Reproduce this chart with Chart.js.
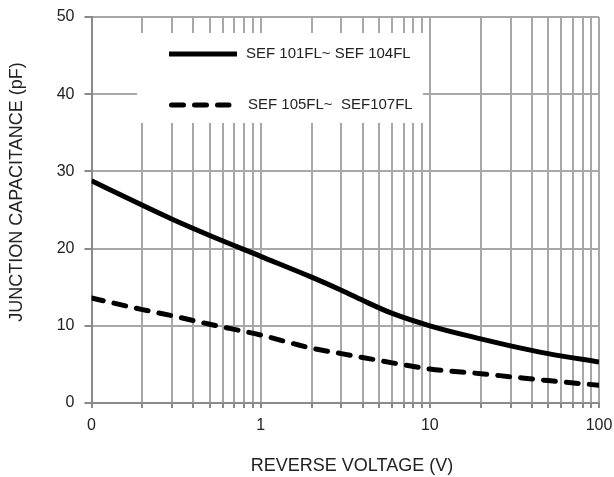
<!DOCTYPE html>
<html>
<head>
<meta charset="utf-8">
<script src="https://cdn.jsdelivr.net/npm/chart.js@4.4.1/dist/chart.umd.min.js"></script>
<style>
  html, body { margin: 0; padding: 0; background: #ffffff; }
  #wrap { width: 614px; height: 477px; }
</style>
</head>
<body>
<div id="wrap"><canvas id="c" width="614" height="477"></canvas></div>
<script>
// ---- data ----
const voltage = [0.1, 0.2, 0.3, 0.5, 1, 2, 3, 4, 6, 10, 20, 30, 50, 100];
const capSEF101_104 = [28.8, 25.6, 23.8, 21.7, 19.0, 16.3, 14.6, 13.3, 11.6, 10.0, 8.3, 7.4, 6.4, 5.3];
const capSEF105_107 = [13.6, 12.1, 11.3, 10.2, 8.8, 7.1, 6.4, 5.9, 5.2, 4.4, 3.8, 3.4, 2.9, 2.3];
const seriesNames = ["SEF 101FL~ SEF 104FL", "SEF 105FL~  SEF107FL"];
const xTickValues = [0.1,0.2,0.3,0.4,0.5,0.6,0.7,0.8,0.9,1,2,3,4,5,6,7,8,9,10,20,30,40,50,60,70,80,90,100];
const xTickLabels = {0.1: "0", 1: "1", 10: "10", 100: "100"};
const yTickValues = [0, 10, 20, 30, 40, 50];
const xTitle = "REVERSE VOLTAGE (V)";
const yTitle = "JUNCTION CAPACITANCE (pF)";

const FONT = "'Liberation Sans', Arial, sans-serif";
const GRID = "#a8a8a8";
const AXIS = "#8a8a8a";

const legendBox = {
  id: 'legendBox',
  beforeDatasetsDraw(chart) {
    const ctx = chart.ctx;
    ctx.save();
    ctx.fillStyle = '#ffffff';
    ctx.fillRect(137, 33, 286, 90);
    ctx.restore();
  },
  afterDatasetsDraw(chart) {
    const ctx = chart.ctx;
    const items = [
      {ds: chart.data.datasets[0], x1: 169, x2: 237, y: 54, tx: 246},
      {ds: chart.data.datasets[1], x1: 171.5, x2: 229, y: 105, tx: 248}
    ];
    ctx.save();
    items.forEach(it => {
      ctx.strokeStyle = it.ds.borderColor;
      ctx.lineWidth = it.ds.borderWidth;
      ctx.lineCap = it.ds.borderCapStyle || 'butt';
      ctx.setLineDash(it.ds.borderDash || []);
      ctx.beginPath();
      ctx.moveTo(it.x1, it.y);
      ctx.lineTo(it.x2, it.y);
      ctx.stroke();
      ctx.setLineDash([]);
      ctx.fillStyle = '#222';
      ctx.font = "15px " + FONT;
      ctx.textBaseline = 'middle';
      ctx.textAlign = 'left';
      ctx.fillText(it.ds.label, it.tx, it.y);
    });
    ctx.restore();
  }
};

const axisTitles = {
  id: 'axisTitles',
  afterDraw(chart) {
    const ctx = chart.ctx;
    ctx.save();
    ctx.fillStyle = '#222';
    ctx.font = "18px " + FONT;
    ctx.textAlign = 'center';
    ctx.textBaseline = 'middle';
    ctx.fillText(xTitle, 352, 466);
    ctx.translate(17, 192);
    ctx.rotate(-Math.PI / 2);
    ctx.fillText(yTitle, 0, 0);
    ctx.restore();
  }
};

new Chart(document.getElementById('c'), {
  type: 'line',
  data: {
    datasets: [
      {
        label: seriesNames[0],
        data: voltage.map((v, i) => ({x: v, y: capSEF101_104[i]})),
        borderColor: '#000000',
        borderWidth: 5,
        borderCapStyle: 'butt',
        pointRadius: 0,
        cubicInterpolationMode: 'monotone',
        fill: false
      },
      {
        label: seriesNames[1],
        data: voltage.map((v, i) => ({x: v, y: capSEF105_107[i]})),
        borderColor: '#000000',
        borderWidth: 5,
        borderDash: [12, 11],
        borderCapStyle: 'round',
        pointRadius: 0,
        cubicInterpolationMode: 'monotone',
        fill: false
      }
    ]
  },
  options: {
    responsive: false,
    animation: false,
    devicePixelRatio: 1,
    layout: { padding: { left: 0, top: 17, right: 15, bottom: 0 } },
    plugins: {
      legend: { display: false },
      tooltip: { enabled: false },
      title: { display: false }
    },
    scales: {
      x: {
        type: 'logarithmic',
        min: 0.1,
        max: 100,
        afterBuildTicks(scale) {
          scale.ticks = xTickValues.map(v => ({value: v}));
        },
        afterFit(scale) {
          scale.height = 74;
          scale.paddingLeft = 0;
          scale.paddingRight = 0;
        },
        ticks: {
          autoSkip: false,
          maxRotation: 0,
          padding: 8,
          color: '#222',
          font: { family: FONT, size: 16 },
          callback: (v) => (xTickLabels[v] !== undefined ? xTickLabels[v] : '')
        },
        grid: { color: GRID, lineWidth: 2, tickLength: 5, tickColor: AXIS },
        border: { color: AXIS, width: 2 }
      },
      y: {
        min: 0,
        max: 50,
        afterBuildTicks(scale) {
          scale.ticks = yTickValues.map(v => ({value: v}));
        },
        afterFit(scale) {
          scale.width = 91.5;
          scale.paddingTop = 0;
          scale.paddingBottom = 0;
        },
        ticks: {
          padding: 10,
          color: '#222',
          font: { family: FONT, size: 16 }
        },
        grid: { color: GRID, lineWidth: 2, tickLength: 7, tickColor: AXIS },
        border: { color: AXIS, width: 2 }
      }
    }
  },
  plugins: [legendBox, axisTitles]
});
</script>
</body>
</html>
